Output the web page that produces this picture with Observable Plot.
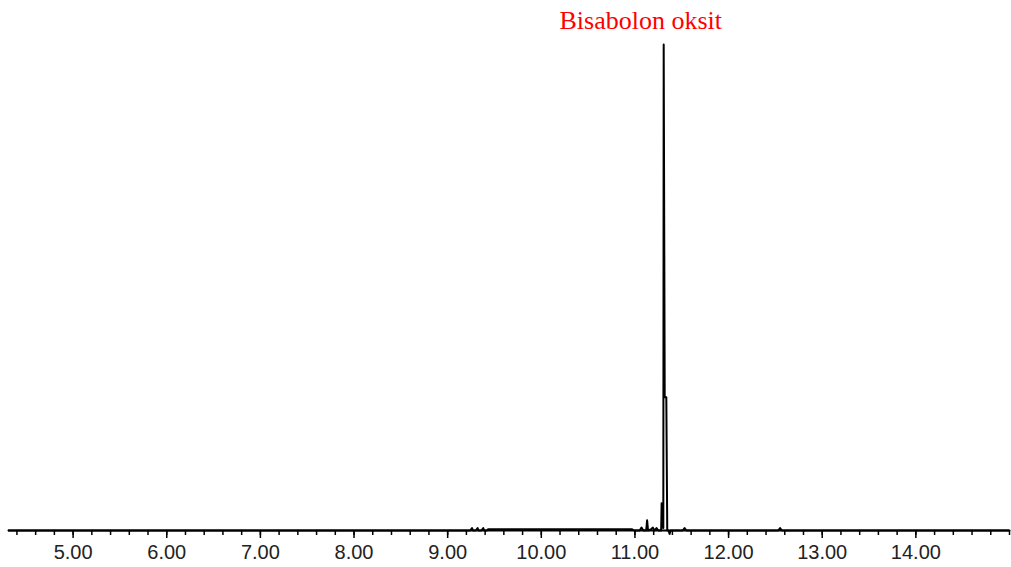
<!DOCTYPE html>
<html>
<head>
<meta charset="utf-8">
<script src="https://cdn.jsdelivr.net/npm/d3@7"></script>
<script src="https://cdn.jsdelivr.net/npm/@observablehq/plot@0.6"></script>
<style>
  html, body { margin: 0; padding: 0; background: #fff; }
  #chart svg { display: block; overflow: visible; }
</style>
</head>
<body>
<div id="chart"></div>
<script>
// Retention time (min) and relative abundance (% of largest peak)
const times = [
  4.31, 9.24, 9.26, 9.27, 9.30, 9.32, 9.33, 9.36, 9.38, 9.39, 9.42, 9.43,
  10.97, 10.99, 11.05, 11.07, 11.09, 11.12, 11.13, 11.14, 11.17, 11.19, 11.21, 11.23, 11.25,
  11.28, 11.285, 11.303, 11.307, 11.318, 11.335, 11.345, 11.36, 11.37, 11.38,
  11.51, 11.53, 11.55, 12.53, 12.55, 12.57, 15.0
];
const intensities = [
  0, 0, 0.5, 0, 0, 0.5, 0, 0, 0.5, 0, 0, 0.25,
  0.25, 0, 0, 0.6, 0, 0, 2.1, 0, 0.2, 0.6, 0, 0.5, 0,
  0, 5.6, 0.5, 100, 27.4, 27.4, 0, 0, -0.7, 0,
  0, 0.5, 0, 0, 0.5, 0, 0
];
const majorTicks = [5, 6, 7, 8, 9, 10, 11, 12, 13, 14];
const minorTicks = d3.range(0, 54).map(i => +(4.4 + i * 0.2).toFixed(1));
const peakLabel = "Bisabolon oksit";
const peakTime = 11.307;
const peakValue = 100;

const trace = times.map((t, i) => ({t, v: intensities[i]}));

const chart = Plot.plot({
  width: 1011,
  height: 567,
  marginLeft: 8,
  marginRight: 2,
  marginTop: 44,
  marginBottom: 37,
  style: {fontFamily: "'Liberation Sans', Arial, sans-serif", background: "#fff", color: "#000"},
  x: {domain: [4.31, 15.0], axis: null},
  y: {domain: [0, 100], axis: null},
  marks: [
    Plot.ruleY([0], {stroke: "#000", strokeWidth: 2}),
    Plot.axisX(minorTicks, {tickSize: 5, text: null, label: null, stroke: "#000", strokeWidth: 1.5}),
    Plot.axisX(majorTicks, {
      tickSize: 8, tickPadding: 6, stroke: "#000", strokeWidth: 1.5, label: null,
      tickFormat: d => d.toFixed(2), fontSize: 20, fill: "#222"
    }),
    Plot.line(trace, {x: "t", y: "v", stroke: "#000", strokeWidth: 2, curve: "linear"}),
    Plot.text([{t: peakTime, v: peakValue, label: peakLabel}], {
      x: "t", y: "v", text: "label", dx: -23, dy: -16,
      lineAnchor: "bottom", textAnchor: "middle",
      fill: "red", fontSize: 26, fontFamily: "'Liberation Serif', 'Times New Roman', serif"
    })
  ]
});
document.getElementById("chart").appendChild(chart);
</script>
</body>
</html>
